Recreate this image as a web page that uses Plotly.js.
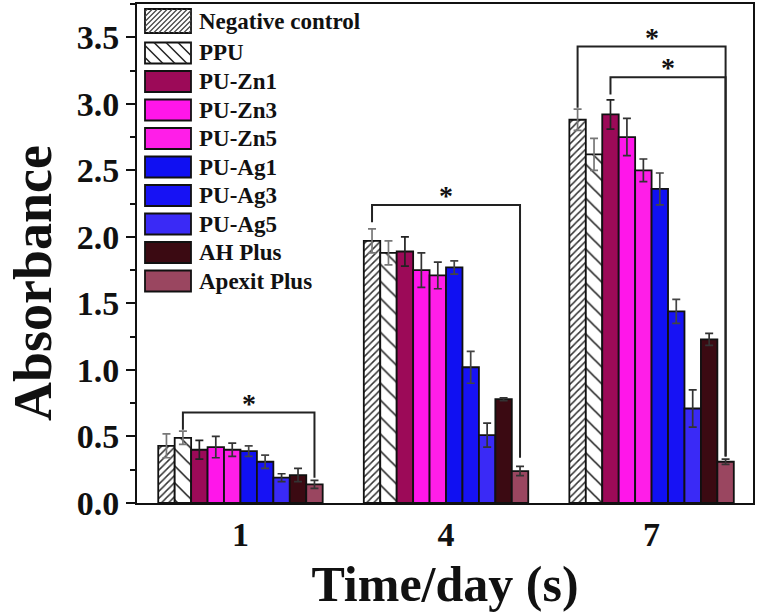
<!DOCTYPE html>
<html>
<head>
<meta charset="utf-8">
<script src="https://cdn.plot.ly/plotly-3.0.1.min.js"></script>
<style>html,body{margin:0;padding:0;background:#fff;}#chart{width:759px;height:613px;}</style>
</head>
<body>
<div id="chart"></div>
<script>
// ---------- data ----------
const days = [1, 4, 7];
const dayLabels = ['1', '4', '7'];
const seriesNames = ['Negative control', 'PPU', 'PU-Zn1', 'PU-Zn3', 'PU-Zn5',
                     'PU-Ag1', 'PU-Ag3', 'PU-Ag5', 'AH Plus', 'Apexit Plus'];
const negativeControl = [0.43, 1.97, 2.88];
const ppu            = [0.49, 1.88, 2.62];
const puZn1          = [0.40, 1.89, 2.92];
const puZn3          = [0.42, 1.75, 2.75];
const puZn5          = [0.40, 1.71, 2.50];
const puAg1          = [0.39, 1.77, 2.36];
const puAg3          = [0.31, 1.02, 1.44];
const puAg5          = [0.19, 0.51, 0.71];
const ahPlus         = [0.21, 0.78, 1.23];
const apexitPlus     = [0.14, 0.24, 0.31];
const negativeControlErr = [0.09, 0.09, 0.08];
const ppuErr             = [0.05, 0.09, 0.12];
const puZn1Err           = [0.07, 0.11, 0.11];
const puZn3Err           = [0.08, 0.13, 0.14];
const puZn5Err           = [0.05, 0.10, 0.085];
const puAg1Err           = [0.04, 0.05, 0.12];
const puAg3Err           = [0.05, 0.12, 0.09];
const puAg5Err           = [0.03, 0.09, 0.14];
const ahPlusErr          = [0.05, 0.01, 0.045];
const apexitPlusErr      = [0.03, 0.035, 0.02];
// significance brackets: day index, from series, to series, top level, left leg end, right leg end
const bracketDay   = [0, 1, 2, 2];
const bracketFrom  = [1, 0, 0, 2];
const bracketTo    = [9, 9, 9, 9];
const bracketTop   = [0.68, 2.24, 3.43, 3.20];
const bracketLeft  = [0.55, 2.11, 2.97, 3.07];
const bracketRight = [0.19, 0.34, 0.35, 0.35];

const values = [negativeControl, ppu, puZn1, puZn3, puZn5, puAg1, puAg3, puAg5, ahPlus, apexitPlus];
const errors = [negativeControlErr, ppuErr, puZn1Err, puZn3Err, puZn5Err, puAg1Err, puAg3Err, puAg5Err, ahPlusErr, apexitPlusErr];

// ---------- styles ----------
const fills = ['#ffffff', '#ffffff', '#9c0a58', '#ff16ea', '#ff1ee8', '#1010f2', '#1712f4', '#3a2af6', '#3b0a12', '#9a4660'];
const patterns = [
  {shape: '/', fgcolor: '#333333', bgcolor: '#ffffff', size: 5, solidity: 0.3},
  {shape: '\\', fgcolor: '#1a1a1a', bgcolor: '#ffffff', size: 12, solidity: 0.13},
];
const errColors = ['#777777', '#777777', '#222222', '#333333', '#333333', '#444444', '#444444', '#333333', '#333333', '#333333'];

const FONT = 'Liberation Serif, Times New Roman, serif';
const nS = seriesNames.length;
const groupWidth = 3 * 0.8;
const barW = groupWidth / nS;

const traces = seriesNames.map((name, i) => {
  const marker = {color: fills[i], line: {color: '#111111', width: 1.8}};
  if (i < 2) marker.pattern = patterns[i];
  return {
    type: 'bar', name: name, x: days, y: values[i],
    marker: marker, showlegend: false,
    error_y: {type: 'data', array: errors[i], visible: true, color: errColors[i], thickness: 1.7, width: 4}
  };
});

// plot area in pixels (for legend placement)
const L = 137, R = 753, T = 4, B = 503;
const px = v => (v - L) / (R - L);
const py = v => (B - v) / (B - T);

const shapes = [];
const annotations = [];

// brackets
function barCenter(day, s) { return days[day] + (s - (nS - 1) / 2) * barW; }
for (let k = 0; k < bracketDay.length; k++) {
  const x0 = barCenter(bracketDay[k], bracketFrom[k]);
  const x1 = barCenter(bracketDay[k], bracketTo[k]);
  shapes.push({type: 'path', xref: 'x', yref: 'y',
    path: `M${x0},${bracketLeft[k]} L${x0},${bracketTop[k]} L${x1},${bracketTop[k]} L${x1},${bracketRight[k]}`,
    line: {color: '#222222', width: 2}});
  annotations.push({xref: 'x', yref: 'y', x: (x0 + x1) / 2, y: bracketTop[k], text: '*',
    showarrow: false, yanchor: 'bottom', yshift: -8,
    font: {family: FONT, size: 28, color: '#111111', weight: 700}});
}

// manual legend
function hatch(x0, y0, x1, y1, step, dir) {
  let d = '';
  if (dir === '/') {
    for (let c = x0 + y0 + step / 2; c < x1 + y1; c += step) {
      const xa = Math.max(x0, c - y1), xb = Math.min(x1, c - y0);
      if (xb <= xa) continue;
      d += `M${px(xa)},${py(c - xa)} L${px(xb)},${py(c - xb)} `;
    }
  } else {
    for (let c = x0 - y1 + step / 2; c < x1 - y0; c += step) {
      const xa = Math.max(x0, c + y0), xb = Math.min(x1, c + y1);
      if (xb <= xa) continue;
      d += `M${px(xa)},${py(xa - c)} L${px(xb)},${py(xb - c)} `;
    }
  }
  return d;
}
for (let i = 0; i < nS; i++) {
  const cy = i === 0 ? 21 : 53 + (i - 1) * 28.5;
  const h = i === 0 ? 24 : 21;
  const sx0 = 145, sx1 = 191, sy0 = cy - h / 2, sy1 = cy + h / 2;
  shapes.push({type: 'rect', xref: 'paper', yref: 'paper',
    x0: px(sx0), x1: px(sx1), y0: py(sy1), y1: py(sy0),
    fillcolor: fills[i], line: {color: '#111111', width: 1.8}});
  if (i === 0) shapes.push({type: 'path', xref: 'paper', yref: 'paper',
    path: hatch(sx0, sy0, sx1, sy1, 5, '/'), line: {color: '#444444', width: 1.2}});
  if (i === 1) shapes.push({type: 'path', xref: 'paper', yref: 'paper',
    path: hatch(sx0, sy0, sx1, sy1, 12, '\\'), line: {color: '#222222', width: 1.5}});
  annotations.push({xref: 'paper', yref: 'paper', x: px(197), y: py(cy), xanchor: 'left', yanchor: 'middle',
    text: seriesNames[i], showarrow: false,
    font: {family: FONT, size: 23, color: '#111111', weight: 700}});
}

// y axis title placed as rotated text (sits lower than plot centre in the reference)
annotations.push({xref: 'paper', yref: 'paper', x: px(33), y: py(283), xanchor: 'center', yanchor: 'middle',
  text: 'Absorbance', textangle: -90, showarrow: false,
  font: {family: FONT, size: 54, color: '#111111', weight: 700}});

const layout = {
  width: 759, height: 613,
  margin: {l: L, r: 759 - R, t: T, b: 613 - B},
  paper_bgcolor: '#ffffff', plot_bgcolor: '#ffffff',
  barmode: 'group', bargap: 0.2, bargroupgap: 0,
  showlegend: false,
  font: {family: FONT, color: '#111111'},
  xaxis: {
    range: [-0.51, 8.48], tickvals: days, ticktext: dayLabels,
    showline: true, linecolor: '#111111', linewidth: 2, mirror: true,
    ticks: '', showgrid: false, zeroline: false,
    tickfont: {family: FONT, size: 34, color: '#111111', weight: 700},
    title: {text: 'Time/day (s)', standoff: 14, font: {family: FONT, size: 50, color: '#111111', weight: 700}}
  },
  yaxis: {
    range: [0, 3.75], dtick: 0.5, tick0: 0, tickformat: '.1f',
    showline: true, linecolor: '#111111', linewidth: 2, mirror: true,
    ticks: 'outside', ticklen: 9, tickwidth: 2, tickcolor: '#111111',
    minor: {dtick: 0.25, ticks: 'outside', ticklen: 5, tickwidth: 2, tickcolor: '#111111'},
    showgrid: false, zeroline: false,
    tickfont: {family: FONT, size: 34, color: '#111111', weight: 700}
  },
  shapes: shapes,
  annotations: annotations
};

Plotly.newPlot('chart', traces, layout, {displayModeBar: false, staticPlot: true});
</script>
</body>
</html>
